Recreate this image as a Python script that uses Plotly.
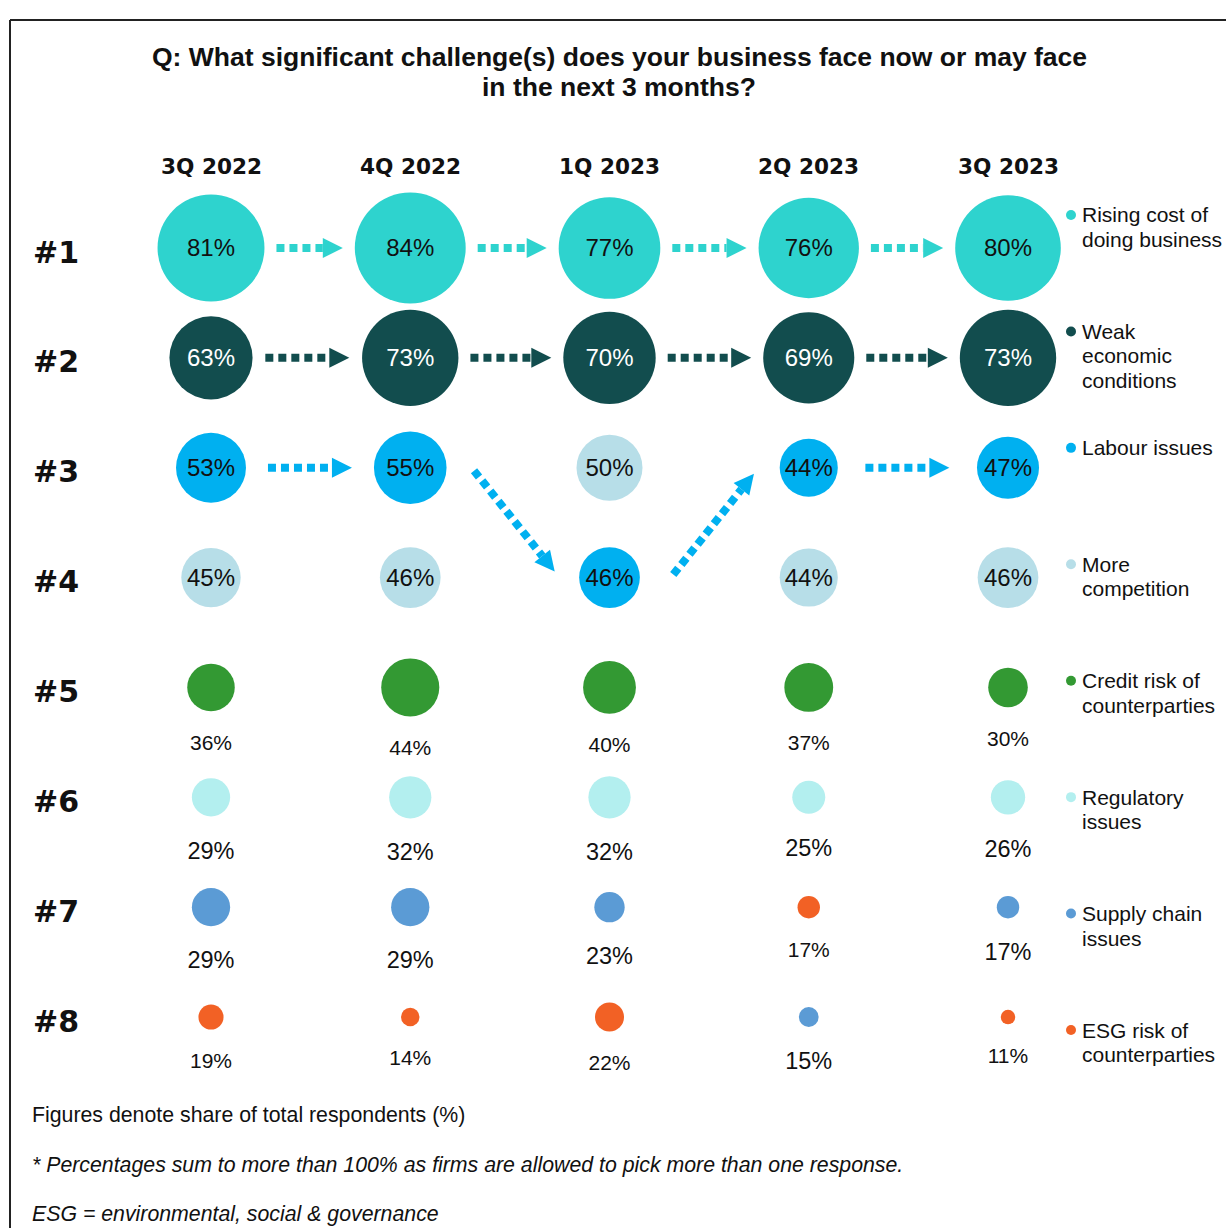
import plotly.graph_objects as go

# ---------------------------------------------------------------------------
# Data
# ---------------------------------------------------------------------------
quarters = ["3Q 2022", "4Q 2022", "1Q 2023", "2Q 2023", "3Q 2023"]
rank_labels = ["#1", "#2", "#3", "#4", "#5", "#6", "#7", "#8"]

rising_cost = [81, 84, 77, 76, 80]
rising_cost_rank = [1, 1, 1, 1, 1]

weak_economy = [63, 73, 70, 69, 73]
weak_economy_rank = [2, 2, 2, 2, 2]

labour = [53, 55, 46, 44, 47]
labour_rank = [3, 3, 4, 3, 3]

competition = [45, 46, 50, 44, 46]
competition_rank = [4, 4, 3, 4, 4]

credit_risk = [36, 44, 40, 37, 30]
credit_risk_rank = [5, 5, 5, 5, 5]

regulatory = [29, 32, 32, 25, 26]
regulatory_rank = [6, 6, 6, 6, 6]

supply_chain = [29, 29, 23, 15, 17]
supply_chain_rank = [7, 7, 7, 8, 7]

esg_risk = [19, 14, 22, 17, 11]
esg_risk_rank = [8, 8, 8, 7, 8]

legend_lines = {
    "rising_cost": ["Rising cost of", "doing business"],
    "weak_economy": ["Weak", "economic", "conditions"],
    "labour": ["Labour issues"],
    "competition": ["More", "competition"],
    "credit_risk": ["Credit risk of", "counterparties"],
    "regulatory": ["Regulatory", "issues"],
    "supply_chain": ["Supply chain", "issues"],
    "esg_risk": ["ESG risk of", "counterparties"],
}

title_lines = [
    "Q: What significant challenge(s) does your business face now or may face",
    "in the next 3 months?",
]
footnotes = [
    ("Figures denote share of total respondents (%)", False),
    ("* Percentages sum to more than 100% as firms are allowed to pick more than one response.", True),
    ("ESG = environmental, social & governance", True),
]

# ---------------------------------------------------------------------------
# Styling
# ---------------------------------------------------------------------------
ARIAL = "Liberation Sans, Arial, sans-serif"
VERDANA = "DejaVu Sans, Verdana, sans-serif"

series = [
    # key, values, ranks, colour, label inside bubble, label colour, label size
    ("rising_cost", rising_cost, rising_cost_rank, "#2ED3CE", True, "#111111", 24),
    ("weak_economy", weak_economy, weak_economy_rank, "#124D4E", True, "#FFFFFF", 24),
    ("labour", labour, labour_rank, "#00B0F0", True, "#111111", 24),
    ("competition", competition, competition_rank, "#B7DEE8", True, "#111111", 24),
    ("credit_risk", credit_risk, credit_risk_rank, "#339933", False, "#111111", 21),
    ("regulatory", regulatory, regulatory_rank, "#B3EFEF", False, "#111111", 23.5),
    ("supply_chain", supply_chain, supply_chain_rank, "#5B9BD5", False, "#111111", 23.5),
    ("esg_risk", esg_risk, esg_risk_rank, "#F26125", False, "#111111", 21),
]

# series whose movement between quarters is traced with dotted arrows
tracked = ["rising_cost", "weak_economy", "labour"]

W, H = 1226, 1228
COL0, COL_STEP = 211.0, 199.25      # pixel x of first quarter, spacing
ROW0, ROW_STEP = 248.0, 109.86      # pixel y of rank #1, spacing
PX_PER_PCT = 1.32                   # bubble diameter per percentage point


def col_px(i):
    return COL0 + COL_STEP * i


def row_px(r):
    return ROW0 + ROW_STEP * (r - 1)


def to_x(px):
    return (px - COL0) / COL_STEP


def to_y(py):
    return 1 + (py - ROW0) / ROW_STEP


def paper_x(px):
    return px / W


def paper_y(py):
    return 1 - py / H


fig = go.Figure()
xs = list(range(len(quarters)))

for key, vals, ranks, colour, inside, tcolour, tsize in series:
    sizes = [v * PX_PER_PCT for v in vals]
    labels = [f"{v}%" for v in vals]
    fig.add_trace(go.Scatter(
        x=xs, y=ranks, mode="markers",
        marker=dict(size=sizes, sizemode="diameter", color=colour,
                    line=dict(width=0), opacity=1),
        hoverinfo="skip", showlegend=False, cliponaxis=False,
    ))
    if inside:
        # value printed in the bubble, nudged a touch below centre
        label_y = [r + 2 / ROW_STEP for r in ranks]
    else:
        # value printed under the bubble, clear of its edge
        gap = 1.2 * tsize + 8
        label_y = [r + (s / 2 + gap) / ROW_STEP for r, s in zip(ranks, sizes)]
    fig.add_trace(go.Scatter(
        x=xs, y=label_y, mode="text", text=labels,
        textposition="middle center",
        textfont=dict(family=ARIAL, size=tsize, color=tcolour),
        hoverinfo="skip", showlegend=False, cliponaxis=False,
    ))

# ---------------------------------------------------------------------------
# Dotted arrows tracing each tracked series from one quarter to the next
# ---------------------------------------------------------------------------
shapes = []
HEAD_LEN, HEAD_HALF = 20.0, 10.0
DOT_W = 8


def arrow(x0, y0, x1, y1, colour):
    dx, dy = x1 - x0, y1 - y0
    n = (dx * dx + dy * dy) ** 0.5
    ux, uy = dx / n, dy / n
    bx, by = x1 - ux * HEAD_LEN, y1 - uy * HEAD_LEN
    shapes.append(dict(
        type="line", xref="x", yref="y",
        x0=to_x(x0), y0=to_y(y0), x1=to_x(bx), y1=to_y(by),
        line=dict(color=colour, width=DOT_W, dash="8px,5px"),
    ))
    px_, py_ = -uy, ux
    pts = [(x1, y1), (bx + px_ * HEAD_HALF, by + py_ * HEAD_HALF),
           (bx - px_ * HEAD_HALF, by - py_ * HEAD_HALF)]
    path = "M " + " L ".join(f"{to_x(a):.5f},{to_y(b):.5f}" for a, b in pts) + " Z"
    shapes.append(dict(type="path", xref="x", yref="y", path=path,
                       fillcolor=colour, line=dict(width=0)))


for key, vals, ranks, colour, *_ in series:
    if key not in tracked:
        continue
    for i in range(len(quarters) - 1):
        cx0, cy0 = col_px(i), row_px(ranks[i])
        cx1, cy1 = col_px(i + 1), row_px(ranks[i + 1])
        r0 = vals[i] * PX_PER_PCT / 2
        r1 = vals[i + 1] * PX_PER_PCT / 2
        if ranks[i] == ranks[i + 1]:
            e0, e1 = cx0 + r0, cx1 - r1
            length = min(e1 - e0 - 24, 84)
            mid = (e0 + e1) / 2
            arrow(mid - length / 2, cy0, mid + length / 2, cy1, colour)
        else:
            step = 1 if cy1 > cy0 else -1
            arrow(cx0 + 0.32 * COL_STEP, cy0 + 3 * step,
                  cx1 - 0.275 * COL_STEP, cy1 - 6 * step, colour)

# Frame lines (top and left)
shapes.append(dict(type="line", xref="paper", yref="paper",
                   x0=paper_x(10), y0=paper_y(20), x1=1, y1=paper_y(20),
                   line=dict(color="#222222", width=2)))
shapes.append(dict(type="line", xref="paper", yref="paper",
                   x0=paper_x(10), y0=paper_y(20), x1=paper_x(10), y1=0,
                   line=dict(color="#222222", width=2)))

# ---------------------------------------------------------------------------
# Text: title, quarter headers, rank labels, legend, footnotes
# ---------------------------------------------------------------------------
annotations = []
for k, line in enumerate(title_lines):
    annotations.append(dict(
        text=f"<b>{line}</b>", xref="paper", yref="paper",
        x=paper_x(619), y=paper_y(57 + 30 * k), xanchor="center", yanchor="middle",
        showarrow=False, font=dict(family=ARIAL, size=26.5, color="#111111"),
    ))

for i, q in enumerate(quarters):
    annotations.append(dict(
        text=f"<b>{q}</b>", xref="x", yref="paper",
        x=i, y=paper_y(167), xanchor="center", yanchor="middle",
        showarrow=False, font=dict(family=VERDANA, size=21.6, color="#111111"),
    ))

for r, lab in enumerate(rank_labels, start=1):
    annotations.append(dict(
        text=f"<b>{lab}</b>", xref="paper", yref="y",
        x=paper_x(31), y=r + 4 / ROW_STEP, xanchor="left", yanchor="middle",
        showarrow=False, font=dict(family=VERDANA, size=30, color="#111111"),
    ))

LEG_Y0, LEG_STEP, LEG_LINE = 215.0, 116.43, 24.5
for k, (key, vals, ranks, colour, *_) in enumerate(series):
    y0 = LEG_Y0 + LEG_STEP * k
    shapes.append(dict(type="circle", xref="paper", yref="paper",
                       x0=paper_x(1066), x1=paper_x(1076),
                       y0=paper_y(y0 - 5), y1=paper_y(y0 + 5),
                       fillcolor=colour, line=dict(width=0)))
    for j, line in enumerate(legend_lines[key]):
        annotations.append(dict(
            text=line, xref="paper", yref="paper",
            x=paper_x(1080), y=paper_y(y0 + LEG_LINE * j),
            xanchor="left", yanchor="middle", showarrow=False,
            font=dict(family=ARIAL, size=21, color="#111111"),
        ))

for k, (line, italic) in enumerate(footnotes):
    annotations.append(dict(
        text=f"<i>{line}</i>" if italic else line, xref="paper", yref="paper",
        x=paper_x(30), y=paper_y(1115 + 49.5 * k), xanchor="left", yanchor="middle",
        showarrow=False, font=dict(family=ARIAL, size=21.3, color="#111111"),
    ))

fig.update_layout(
    width=W, height=H,
    margin=dict(l=0, r=0, t=0, b=0),
    paper_bgcolor="white", plot_bgcolor="white",
    xaxis=dict(range=[to_x(0), to_x(W)], visible=False, fixedrange=True),
    yaxis=dict(range=[to_y(H), to_y(0)], visible=False, fixedrange=True),
    shapes=shapes,
    annotations=annotations,
    showlegend=False,
)

fig.write_html("out.html")
